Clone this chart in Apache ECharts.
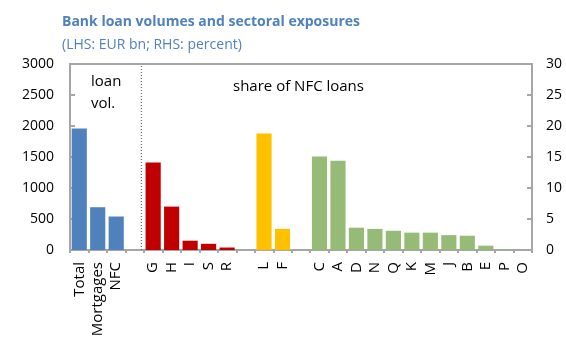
<!DOCTYPE html>
<html>
<head>
<meta charset="utf-8">
<script src="https://cdn.jsdelivr.net/npm/echarts@6/dist/echarts.min.js"></script>
<style>
  html, body { margin: 0; padding: 0; background: #fff; }
  #main { width: 566px; height: 348px; }
</style>
</head>
<body>
<div id="main"></div>
<script>
// categories ('' = spacer between groups)
var categories = ['Total', 'Mortgages', 'NFC', '', 'G', 'H', 'I', 'S', 'R', '', 'L', 'F', '',
  'C', 'A', 'D', 'N', 'Q', 'K', 'M', 'J', 'B', 'E', 'P', 'O'];

// loan volumes, EUR bn (left axis)
var loanVolumes = [1960, 690, 540, '-', '-', '-', '-', '-', '-', '-', '-', '-', '-',
  '-', '-', '-', '-', '-', '-', '-', '-', '-', '-', '-', '-'];

// share of NFC loans, percent (right axis)
var nfcShares = ['-', '-', '-', '-', 14.1, 7.0, 1.5, 1.0, 0.4, '-', 18.8, 3.4, '-',
  15.1, 14.4, 3.6, 3.4, 3.1, 2.8, 2.8, 2.4, 2.3, 0.7, 0.1, 0];

// colour group for each category
var groups = ['vol', 'vol', 'vol', '', 'red', 'red', 'red', 'red', 'red', '', 'yel', 'yel', '',
  'grn', 'grn', 'grn', 'grn', 'grn', 'grn', 'grn', 'grn', 'grn', 'grn', 'grn', 'grn'];

var colors = { vol: '#4f81bd', red: '#c00000', yel: '#ffc000', grn: '#96bb77' };

// separator position on a 0..25 scale
var separatorX = 3.86;

var chart = echarts.init(document.getElementById('main'));

var shareData = nfcShares.map(function (v, i) {
  return { value: v, itemStyle: { color: colors[groups[i]] || '#fff' } };
});

var option = {
  animation: false,
  title: {
    text: 'Bank loan volumes and sectoral exposures',
    subtext: '(LHS: EUR bn; RHS: percent)',
    left: 57,
    top: 10,
    itemGap: 9,
    textStyle: { fontFamily: 'Open Sans', fontSize: 14, fontWeight: 'bold', color: '#4f81bd' },
    subtextStyle: { fontFamily: 'Open Sans', fontSize: 14, color: '#4f81bd' }
  },
  grid: {
    left: 70, right: 34, top: 64, bottom: 98,
    show: true, borderColor: '#a6a6a6', borderWidth: 2
  },
  xAxis: [
    {
      type: 'category',
      data: categories,
      axisLine: { lineStyle: { color: '#a6a6a6', width: 2 } },
      axisTick: { show: true, alignWithLabel: false, interval: 0, length: 3, lineStyle: { color: '#a6a6a6', width: 2 } },
      axisLabel: {
        interval: 0, rotate: 90, margin: 12,
        fontFamily: 'Open Sans', fontSize: 15, color: '#000'
      }
    },
    { type: 'value', min: 0, max: 25, show: false }
  ],
  yAxis: [
    {
      type: 'value', min: 0, max: 3000, interval: 500,
      splitLine: { show: false },
      axisLine: { show: true, lineStyle: { color: '#a6a6a6', width: 2 } },
      axisTick: { show: true, inside: true, length: 5, lineStyle: { color: '#a6a6a6', width: 2 } },
      axisLabel: {
        margin: 16, fontFamily: 'Open Sans', fontSize: 14, color: '#000',
        formatter: function (v) { return String(v); }
      }
    },
    {
      type: 'value', min: 0, max: 30, interval: 5,
      splitLine: { show: false },
      axisLine: { show: true, lineStyle: { color: '#a6a6a6', width: 2 } },
      axisTick: { show: true, inside: true, length: 5, lineStyle: { color: '#a6a6a6', width: 2 } },
      axisLabel: { margin: 14, fontFamily: 'Open Sans', fontSize: 14, color: '#000' }
    }
  ],
  series: [
    {
      type: 'bar',
      yAxisIndex: 0,
      data: loanVolumes,
      barCategoryGap: '18%',
      barGap: '-100%',
      itemStyle: { color: colors.vol }
    },
    {
      type: 'bar',
      yAxisIndex: 1,
      data: shareData,
      barCategoryGap: '18%',
      barGap: '-100%'
    },
    {
      type: 'line',
      xAxisIndex: 1,
      yAxisIndex: 0,
      data: [[separatorX, 0], [separatorX, 3000]],
      symbol: 'none',
      lineStyle: { color: '#555', width: 1, type: [1, 2] }
    }
  ],
  graphic: [
    {
      type: 'text', left: 91, top: 71,
      style: { text: 'loan\nvol.', fontFamily: 'Open Sans', fontSize: 15, lineHeight: 22, fill: '#000', align: 'center' }
    },
    {
      type: 'text', left: 233, top: 79,
      style: { text: 'share of NFC loans', fontFamily: 'Open Sans', fontSize: 15, fill: '#000' }
    }
  ]
};

chart.setOption(option);
</script>
</body>
</html>
